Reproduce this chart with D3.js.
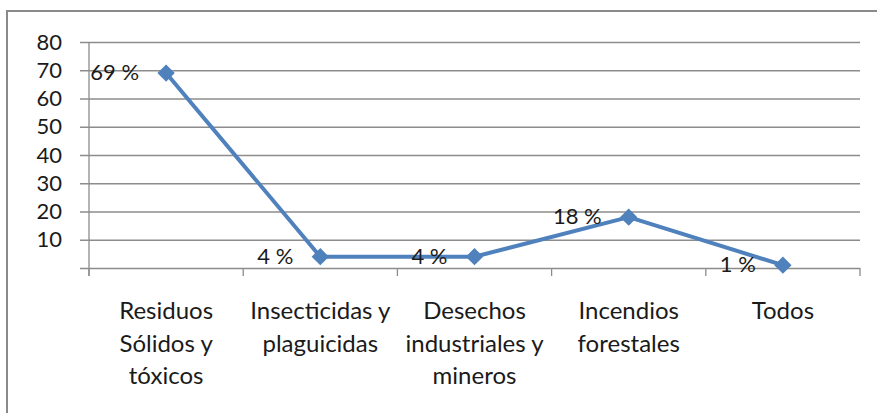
<!DOCTYPE html>
<html lang="es">
    <head>
        <meta charset="utf-8">
        <title>Contaminantes</title>
        <script src="https://cdn.jsdelivr.net/npm/d3@7"></script>
        <style>
            body { margin: 0; background: #fff; }
            svg text { font-family: Lato, "Open Sans", sans-serif; font-size: 22px; fill: #1a1a1a; }
            svg text.cat { font-size: 24px; }
            .grid line { stroke: #8c8c8c; stroke-width: 1.3px; }
        </style>
    </head>
    <body>
        <script>
            // data
            var categories = ["Residuos\nSólidos y\ntóxicos", "Insecticidas y\nplaguicidas", "Desechos\nindustriales y\nmineros", "Incendios\nforestales", "Todos"];
            var values = [69, 4, 4, 18, 1];
            var valueLabels = ["69 %", "4 %", "4 %", "18 %", "1 %"];
            var yTicks = [0, 10, 20, 30, 40, 50, 60, 70, 80];

            var w = 877, h = 413;
            var plotLeft = 89, plotRight = 860, plotTop = 42, plotBottom = 268;

            var svg = d3.select("body").append("svg")
                .attr("width", w)
                .attr("height", h);

            // outer frame
            svg.append("rect")
                .attr("x", 7).attr("y", 11)
                .attr("width", 890).attr("height", 420)
                .attr("fill", "none")
                .attr("stroke", "#8a8a8a")
                .attr("stroke-width", 2);

            var x = d3.scaleBand().domain(categories).range([plotLeft, plotRight]);
            var y = d3.scaleLinear().domain([0, 80]).range([plotBottom, plotTop]);

            // gridlines + y labels
            var yAxis = d3.axisLeft(y)
                .tickValues(yTicks)
                .tickSizeInner(-(plotRight - plotLeft + 9))
                .tickSizeOuter(0)
                .tickPadding(18)
                .tickFormat(function(d){ return d === 0 ? "" : d; });

            var gy = svg.append("g")
                .attr("class", "grid")
                .attr("transform", "translate(" + (plotLeft - 9) + ",0)")
                .call(yAxis);
            gy.select(".domain").remove();
            gy.attr("font-size", null).attr("font-family", null);

            // y axis line
            svg.append("line")
                .attr("x1", plotLeft).attr("x2", plotLeft)
                .attr("y1", plotTop).attr("y2", plotBottom + 8)
                .attr("stroke", "#8c8c8c").attr("stroke-width", 1.3);

            // x boundary ticks
            var bounds = categories.map(function(c){ return x(c); }).concat([x.range()[1]]);
            svg.selectAll(".xtick")
                .data(bounds)
                .enter().append("line")
                .attr("class", "xtick")
                .attr("x1", function(d){ return d; })
                .attr("x2", function(d){ return d; })
                .attr("y1", plotBottom).attr("y2", plotBottom + 8)
                .attr("stroke", "#8c8c8c").attr("stroke-width", 1.3);

            // category labels
            var cl = svg.selectAll(".cat")
                .data(categories)
                .enter().append("text")
                .attr("class", "cat")
                .attr("text-anchor", "middle")
                .attr("transform", function(d){ return "translate(" + (x(d) + x.bandwidth() / 2) + ",319)"; });
            cl.selectAll("tspan")
                .data(function(d){ return d.split("\n"); })
                .enter().append("tspan")
                .attr("x", 0)
                .attr("y", function(d, i){ return i * 32.6; })
                .text(function(d){ return d; });

            // line
            var pts = categories.map(function(c, i){ return [x(c) + x.bandwidth() / 2, y(values[i])]; });
            svg.append("path")
                .attr("d", d3.line()(pts))
                .attr("fill", "none")
                .attr("stroke", "#4F81BD")
                .attr("stroke-width", 4)
                .attr("stroke-linejoin", "round");

            // square markers turned 45deg
            svg.selectAll(".marker")
                .data(pts)
                .enter().append("path")
                .attr("class", "marker")
                .attr("transform", function(d){ return "translate(" + d[0] + "," + d[1] + ") rotate(45)"; })
                .attr("d", d3.symbol().type(d3.symbolSquare).size(150))
                .attr("fill", "#4F81BD");

            // data labels, placed left of the point
            svg.selectAll(".lbl")
                .data(pts)
                .enter().append("text")
                .attr("class", "lbl")
                .attr("text-anchor", "end")
                .attr("x", function(d){ return d[0] - 27; })
                .attr("y", function(d){ return d[1] + 7; })
                .text(function(d, i){ return valueLabels[i]; });
        </script>
    </body>
</html>
